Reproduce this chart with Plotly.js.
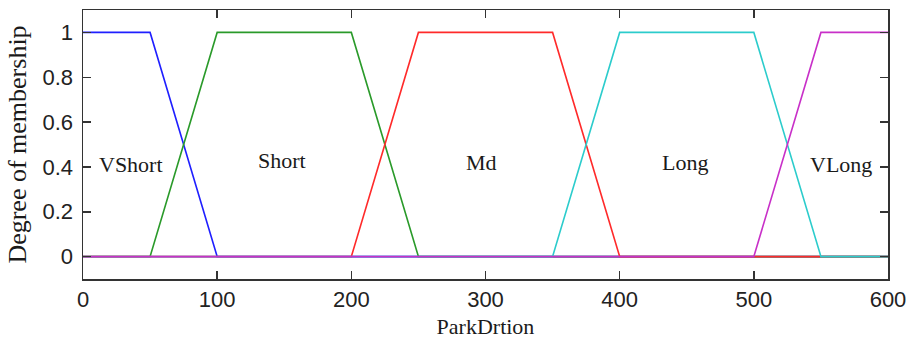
<!DOCTYPE html>
<html>
<head>
<meta charset="utf-8">
<script src="https://cdn.plot.ly/plotly-3.0.1.min.js"></script>
<style>html,body{margin:0;padding:0;background:#fff;}#chart{width:911px;height:343px;}</style>
</head>
<body>
<div id="chart"></div>
<script>
// Membership functions (trapezoids) over ParkDrtion
const mfNames = ["VShort", "Short", "Md", "Long", "VLong"];
const vshortX = [0, 50, 100, 600];
const vshortY = [1, 1, 0, 0];
const shortX = [0, 50, 100, 200, 250, 600];
const shortY = [0, 0, 1, 1, 0, 0];
const mdX = [0, 200, 250, 350, 400, 600];
const mdY = [0, 0, 1, 1, 0, 0];
const longX = [0, 350, 400, 500, 550, 600];
const longY = [0, 0, 1, 1, 0, 0];
const vlongX = [0, 500, 550, 600];
const vlongY = [0, 0, 1, 1];
// label anchor positions
const labelX = [36, 148, 297, 449, 565];
const labelY = [0.41, 0.43, 0.42, 0.42, 0.41];
const xTicks = [0, 100, 200, 300, 400, 500, 600];
const yTicks = [0, 0.2, 0.4, 0.6, 0.8, 1];
const yTickText = ["0", "0.2", "0.4", "0.6", "0.8", "1"];

const colors = ["#1f1fff", "#2a9a2a", "#ff2a2a", "#2ccccc", "#c830c8"];
const xs = [vshortX, shortX, mdX, longX, vlongX];
const ys = [vshortY, shortY, mdY, longY, vlongY];

const traces = xs.map((x, i) => ({
  x: x, y: ys[i], type: "scatter", mode: "lines", name: mfNames[i],
  line: {color: colors[i], width: 1.6}, hoverinfo: "skip"
}));

const serif = "Liberation Serif, Times New Roman, serif";
const annotations = mfNames.map((n, i) => ({
  x: labelX[i], y: labelY[i], xref: "x", yref: "y", text: n, showarrow: false,
  font: {family: serif, size: 22, color: "#1a1a1a"}
}));

const axisCommon = {
  showgrid: false, zeroline: false, showline: true, linecolor: "#333", linewidth: 1.5,
  mirror: "ticks", ticks: "inside", ticklen: 8, tickwidth: 1.5, tickcolor: "#333",
  tickfont: {family: "Liberation Sans, Arial, sans-serif", size: 22, color: "#222"}
};

const layout = {
  width: 911, height: 343,
  margin: {l: 83, r: 23, t: 10, b: 64},
  paper_bgcolor: "#fff", plot_bgcolor: "#fff",
  showlegend: false,
  xaxis: Object.assign({}, axisCommon, {
    range: [0, 600], tickvals: xTicks,
    title: {text: "ParkDrtion", standoff: 7, font: {family: serif, size: 22, color: "#1a1a1a"}}
  }),
  yaxis: Object.assign({}, axisCommon, {
    range: [-0.1, 1.1], tickvals: yTicks, ticktext: yTickText, ticklabelstandoff: 4,
    title: {text: "Degree of membership", standoff: 8, font: {family: serif, size: 26, color: "#1a1a1a"}}
  }),
  annotations: annotations
};

Plotly.newPlot("chart", traces, layout, {staticPlot: true, displayModeBar: false});
</script>
</body>
</html>
